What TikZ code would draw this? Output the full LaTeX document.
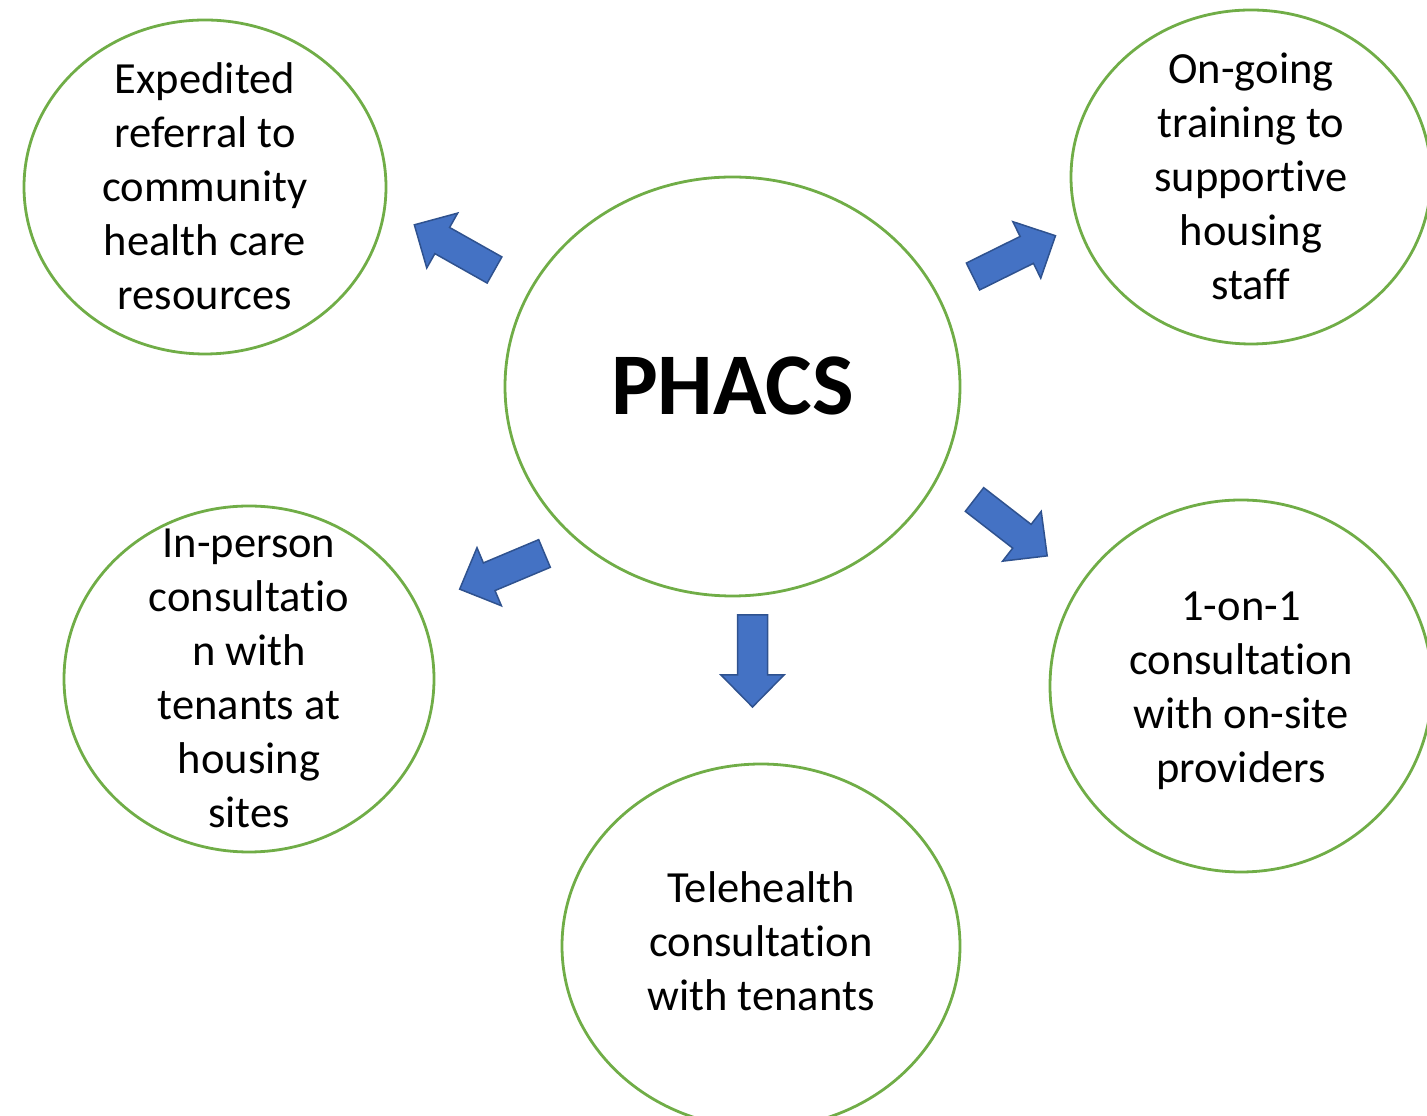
\documentclass[tikz,border=0pt]{standalone}
\usepackage{fontspec}
\setmainfont[Ligatures=NoCommon]{Carlito}
\usetikzlibrary{shapes.geometric}
\definecolor{bubgreen}{HTML}{70AD47}
\definecolor{arrfill}{HTML}{4472C4}
\definecolor{arrline}{HTML}{2F528F}
\begin{document}
\begin{tikzpicture}[x=1pt,y=1pt,
  bubble/.style={ellipse, draw=bubgreen, line width=2.8pt, inner sep=0pt},
  txt/.style={align=center, anchor=base, inner sep=0pt, font=\fontsize{44.5}{54}\selectfont},
  blockarrow/.style={fill=arrfill, draw=arrline, line width=1.5pt, line join=miter}]
\useasboundingbox (0,0) rectangle (1427,1116);
% bubbles
\node[bubble, minimum width=455, minimum height=419] (phacs) at (732.5,729.5) {};
\node[bubble, minimum width=362, minimum height=334] (tl) at (205,929) {};
\node[bubble, minimum width=360, minimum height=334] (tr) at (1251,939) {};
\node[bubble, minimum width=370, minimum height=346] (ml) at (249,437) {};
\node[bubble, minimum width=382, minimum height=372] (rr) at (1241,430) {};
\node[bubble, minimum width=398, minimum height=364] (bb) at (761,170) {};
% texts (base anchor = baseline of last line)
\node[txt, font=\fontsize{88}{100}\bfseries] (phacstext) at (732.5,701) {PHACS};
\node[txt] (tltext) at (205,806) {Expedited\\referral to\\community\\health care\\resources};
\node[txt] (trtext) at (1251,816) {On-going\\training to\\supportive\\housing\\staff};
\node[txt] (mltext) at (249,288) {In-person\\consultatio\\n with\\tenants at\\housing\\sites};
\node[txt] (rrtext) at (1241,333) {1-on-1\\consultation\\with on-site\\providers};
\node[txt] (bbtext) at (761,105) {Telehealth\\consultation\\with tenants};
% block arrows
\newcommand\blkarrow[2]{%
  \draw[blockarrow, shift={(#1)}, rotate=#2]
    (0,-15) -- (60,-15) -- (60,-31.5) -- (92,0) -- (60,31.5) -- (60,15) -- (0,15) -- cycle;}
\coordinate (a1) at (494.5,846);
\coordinate (a2) at (973,839.5);
\coordinate (a3) at (544.5,562.5);
\coordinate (a4) at (974.5,616.5);
\coordinate (a5) at (752.5,501);
\blkarrow{a1}{150.6}
\blkarrow{a2}{26.3}
\blkarrow{a3}{202.8}
\blkarrow{a4}{-37.8}
\blkarrow{a5}{-90}
\end{tikzpicture}
\end{document}
